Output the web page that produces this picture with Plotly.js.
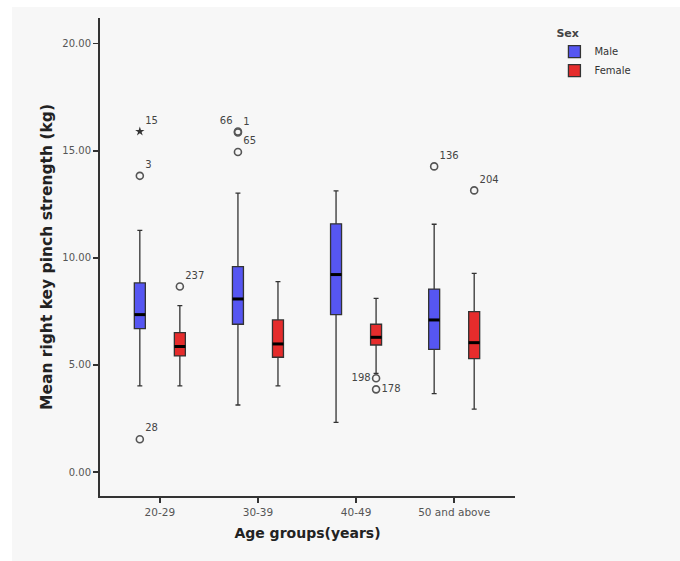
<!DOCTYPE html>
<html>
<head>
<meta charset="utf-8">
<script src="https://cdn.plot.ly/plotly-3.0.1.min.js"></script>
<style>
  html, body { margin: 0; padding: 0; background: #f7f7f7; width: 680px; height: 561px; overflow: hidden; }
  #topstrip { position: absolute; left: 0; top: 0; width: 680px; height: 7px; background: #ffffff; }
  #leftstrip { position: absolute; left: 0; top: 0; width: 12px; height: 561px; background: #ffffff; }
  #plot { position: absolute; left: 12px; top: 7px; width: 668px; height: 554px; }
</style>
</head>
<body>
<div id="topstrip"></div>
<div id="leftstrip"></div>
<div id="plot"></div>
<script>
// ---- data ----
const categories = ['20-29', '30-39', '40-49', '50 and above'];

const maleLowerFence = [4.02, 3.13, 2.32, 3.66];
const maleQ1         = [6.70, 6.90, 7.35, 5.73];
const maleMedian     = [7.35, 8.08, 9.22, 7.10];
const maleQ3         = [8.83, 9.59, 11.59, 8.54];
const maleUpperFence = [11.28, 13.02, 13.13, 11.57];

const femaleLowerFence = [4.02, 4.02, 4.61, 2.94];
const femaleQ1         = [5.42, 5.36, 5.93, 5.29];
const femaleMedian     = [5.86, 5.98, 6.29, 6.04];
const femaleQ3         = [6.51, 7.10, 6.90, 7.49];
const femaleUpperFence = [7.77, 8.89, 8.11, 9.28];

const outlierCase    = ['15', '3', '28', '237', '66', '1', '65', '198', '178', '136', '204'];
const outlierGroup   = ['20-29', '20-29', '20-29', '20-29', '30-39', '30-39', '30-39', '40-49', '40-49', '50 and above', '50 and above'];
const outlierSex     = ['Male', 'Male', 'Male', 'Female', 'Male', 'Male', 'Male', 'Female', 'Female', 'Male', 'Female'];
const outlierValue   = [15.9, 13.83, 1.53, 8.66, 15.9, 15.85, 14.94, 4.38, 3.86, 14.27, 13.15];
const outlierExtreme = [true, false, false, false, false, false, false, false, false, false, false];

// ---- styling / layout helpers ----
const BOXGAP = 0.184, BOXGROUPGAP = 0.725;
const sexOffset = { Male: -(1 - BOXGAP) / 4, Female: (1 - BOXGAP) / 4 };
const halfWidth = (1 - BOXGAP) * (1 - BOXGROUPGAP) / 4;
const xRange = [-0.61, 3.62];
const labelPos = { '66': 'top left', '198': 'middle left', '178': 'middle right' };

const maleColor = '#5656f2';
const femaleColor = '#e52c2c';
const outline = '#333333';

function boxTrace(name, color, lf, q1, med, q3, uf) {
  return {
    type: 'box', name: name, x: categories,
    lowerfence: lf, q1: q1, median: med, q3: q3, upperfence: uf,
    fillcolor: color, line: { color: outline, width: 1.3 },
    whiskerwidth: 0.45, boxpoints: false, hoverinfo: 'skip'
  };
}

function medianTrace(sex, med) {
  const xs = [], ys = [];
  categories.forEach((c, i) => {
    const p = i + sexOffset[sex];
    xs.push(p - halfWidth, p + halfWidth, null);
    ys.push(med[i], med[i], null);
  });
  return { type: 'scatter', mode: 'lines', x: xs, y: ys, xaxis: 'x2',
           line: { color: '#000000', width: 3 }, showlegend: false, hoverinfo: 'skip' };
}

function outlierTrace(extreme) {
  const xs = [], ys = [], txt = [], pos = [];
  outlierCase.forEach((c, i) => {
    if (outlierExtreme[i] !== extreme) return;
    xs.push(categories.indexOf(outlierGroup[i]) + sexOffset[outlierSex[i]]);
    ys.push(outlierValue[i]);
    txt.push(c);
    pos.push(labelPos[c] || 'top right');
  });
  return {
    type: 'scatter', mode: 'markers+text', x: xs, y: ys, xaxis: 'x2',
    text: txt, textposition: pos,
    textfont: { family: 'DejaVu Sans', size: 10, color: '#444444' },
    marker: extreme
      ? { symbol: 'star', size: 7, color: '#333333' }
      : { symbol: 'circle-open', size: 7, color: '#555555', line: { width: 1.6, color: '#555555' } },
    showlegend: false, hoverinfo: 'skip', cliponaxis: false
  };
}

const data = [
  boxTrace('Male', maleColor, maleLowerFence, maleQ1, maleMedian, maleQ3, maleUpperFence),
  boxTrace('Female', femaleColor, femaleLowerFence, femaleQ1, femaleMedian, femaleQ3, femaleUpperFence),
  medianTrace('Male', maleMedian),
  medianTrace('Female', femaleMedian),
  outlierTrace(false),
  outlierTrace(true)
];

const layout = {
  width: 668, height: 554,
  margin: { l: 88, r: 165, t: 11, b: 65 },
  paper_bgcolor: '#f7f7f7', plot_bgcolor: '#f7f7f7',
  font: { family: 'DejaVu Sans', color: '#333333' },
  boxmode: 'group', boxgap: BOXGAP, boxgroupgap: BOXGROUPGAP,
  showlegend: true,
  legend: {
    x: 1.095, xanchor: 'left', y: 0.99, yanchor: 'top',
    itemwidth: 30,
    bgcolor: 'rgba(0,0,0,0)', font: { size: 10, color: '#333333' },
    title: { text: '<b>Sex</b>', side: 'top', font: { size: 11, color: '#444444' } },
    traceorder: 'normal'
  },
  xaxis: {
    type: 'category', categoryarray: categories, categoryorder: 'array',
    range: xRange, showgrid: false, zeroline: false,
    showline: true, linecolor: outline, linewidth: 2,
    ticks: 'outside', ticklen: 5, tickcolor: outline, tickwidth: 1.5,
    tickfont: { size: 10.5, color: '#555555' },
    title: { text: '<b>Age groups(years)</b>', standoff: 12, font: { size: 14, color: '#222222' } }
  },
  xaxis2: { overlaying: 'x', range: xRange, visible: false, showgrid: false, zeroline: false },
  yaxis: {
    range: [-1.12, 21.2], tickvals: [0, 5, 10, 15, 20], tickformat: '.2f',
    showgrid: false, zeroline: false,
    showline: true, linecolor: outline, linewidth: 2,
    ticks: 'outside', ticklen: 5, tickcolor: outline, tickwidth: 1.5,
    tickfont: { size: 10, color: '#555555' },
    title: { text: '<b>Mean right key pinch strength (kg)</b>', standoff: 6, font: { size: 15.5, color: '#222222' } }
  }
};

Plotly.newPlot('plot', data, layout, { displayModeBar: false, staticPlot: true });
</script>
</body>
</html>
